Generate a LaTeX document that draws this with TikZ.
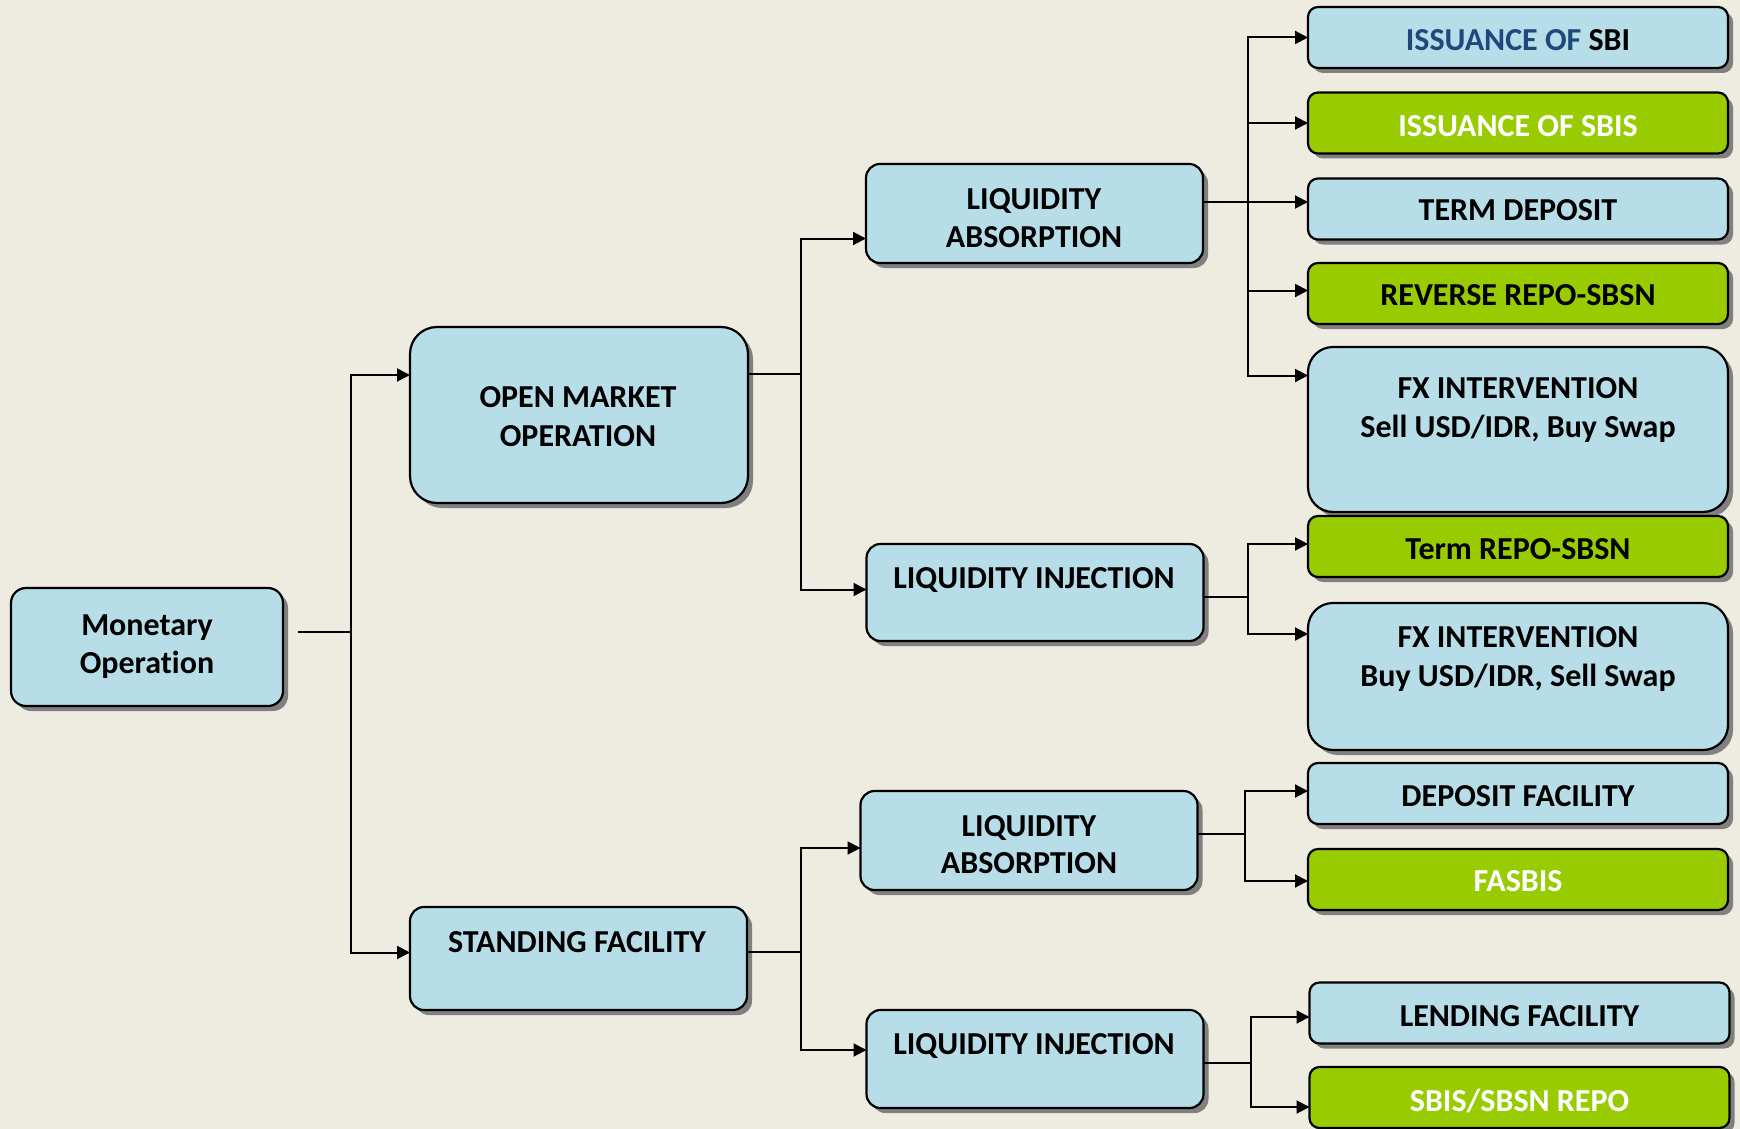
\documentclass[tikz,border=0pt]{standalone}
\usepackage{fontspec}
\setmainfont[Ligatures={NoCommon,NoRare,NoDiscretionary}]{Carlito}
\usetikzlibrary{arrows.meta,shadows}
\definecolor{bg}{HTML}{EEECE1}
\definecolor{lblue}{HTML}{B7DEE8}
\definecolor{lgreen}{HTML}{99CC00}
\definecolor{dblue}{HTML}{1F497D}
\begin{document}
\begin{tikzpicture}[x=1pt,y=-1pt,
 box/.style={draw=black, line width=2.2pt, rounded corners=#1, inner sep=0pt, outer sep=0pt,
   drop shadow={shadow xshift=5pt,shadow yshift=-5pt,fill=black!50,opacity=1}},
 box/.default=10pt,
 bbox/.style={box=#1, fill=lblue},
 bbox/.default=10pt,
 gbox/.style={box=#1, fill=lgreen},
 gbox/.default=10pt,
 txt/.style={anchor=base, font=\fontsize{32}{38}\selectfont\bfseries, inner sep=0pt},
 ln/.style={line width=2pt, draw=black},
 arr/.style={ln, -{Triangle[length=13pt,width=13pt]}},
 rcol/.style={minimum width=420pt, minimum height=61pt},
 mid/.style={minimum width=337pt},
]
\useasboundingbox (0,0) rectangle (1740,1129);
\fill[bg] (0,0) rectangle (1740,1129);

% ---- boxes
\node[bbox=15pt, minimum width=272pt, minimum height=118pt] (mo) at (147,647) {};
\node[bbox=27pt, minimum width=338pt, minimum height=176pt] (omo) at (579,415) {};
\node[bbox=14pt, minimum width=337pt, minimum height=103pt] (sf) at (578.5,958.5) {};
\node[bbox=14pt, mid, minimum height=99pt] (la1) at (1034.5,213.5) {};
\node[bbox=14pt, mid, minimum height=97pt] (li1) at (1035,592.5) {};
\node[bbox=14pt, mid, minimum height=99pt] (la2) at (1029,840.5) {};
\node[bbox=14pt, mid, minimum height=98pt] (li2) at (1035,1059) {};

\node[bbox, rcol] (sbi) at (1518,37.5) {};
\node[gbox, rcol] (sbis) at (1518,123) {};
\node[bbox, rcol] (td) at (1518,209) {};
\node[gbox, rcol] (rr) at (1518,293.5) {};
\node[bbox=25pt, rcol, minimum height=165pt] (fx1) at (1518,429.5) {};
\node[gbox, rcol] (tr) at (1518,546.5) {};
\node[bbox=25pt, rcol, minimum height=147pt] (fx2) at (1518,676.5) {};
\node[bbox, rcol] (df) at (1518,793.5) {};
\node[gbox, rcol] (fas) at (1518,879.5) {};
\node[bbox, rcol] (lf) at (1519.5,1013) {};
\node[gbox, rcol] (sr) at (1519.5,1097.5) {};

% ---- texts
\node[txt] (mo-t1) at (147,635) {Monetary};
\node[txt] (mo-t2) at (147,673) {Operation};
\node[txt] (omo-t1) at (578,407) {OPEN MARKET};
\node[txt] (omo-t2) at (578,446) {OPERATION};
\node[txt] (sf-t) at (577,952) {STANDING FACILITY};
\node[txt] (la1-t1) at (1034,209) {LIQUIDITY};
\node[txt] (la1-t2) at (1034,247) {ABSORPTION};
\node[txt] (li1-t) at (1034,588) {LIQUIDITY INJECTION};
\node[txt] (la2-t1) at (1029,836) {LIQUIDITY};
\node[txt] (la2-t2) at (1029,873) {ABSORPTION};
\node[txt] (li2-t) at (1034,1054.5) {LIQUIDITY INJECTION};

\node[txt] (sbi-t) at (1518,51) {{\color{dblue}ISSUANCE OF} SBI};
\node[txt, text=white] (sbis-t) at (1518,136) {ISSUANCE OF SBIS};
\node[txt] (td-t) at (1518,220) {TERM DEPOSIT};
\node[txt] (rr-t) at (1518,305.5) {REVERSE REPO-SBSN};
\node[txt] (fx1-t1) at (1518,398) {FX INTERVENTION};
\node[txt] (fx1-t2) at (1518,437) {Sell USD/IDR, Buy Swap};
\node[txt] (tr-t) at (1518,559.5) {Term REPO-SBSN};
\node[txt] (fx2-t1) at (1518,647) {FX INTERVENTION};
\node[txt] (fx2-t2) at (1518,686) {Buy USD/IDR, Sell Swap};
\node[txt] (df-t) at (1518,806) {DEPOSIT FACILITY};
\node[txt, text=white] (fas-t) at (1518,891) {FASBIS};
\node[txt] (lf-t) at (1519.5,1026) {LENDING FACILITY};
\node[txt, text=white] (sr-t) at (1519.5,1111) {SBIS/SBSN REPO};

% ---- connectors
\coordinate (j0) at (351,632);
\draw[ln] ([xshift=15pt,yshift=15pt]mo.east) -- (j0);
\draw[arr] (j0) |- ([yshift=40pt]omo.west);
\draw[arr] (j0) |- ([yshift=6pt]sf.west);

\coordinate (j1) at (801,374);
\draw[ln] ([yshift=41pt]omo.east) -- (j1);
\draw[arr] (j1) |- ([yshift=-25pt]la1.west);
\draw[arr] (j1) |- ([yshift=3pt]li1.west);

\coordinate (j2) at (1248,202);
\draw[ln] ([yshift=11.5pt]la1.east) -- (j2);
\draw[arr] (j2) |- (sbi.west);
\draw[arr] (j2) |- (sbis.west);
\draw[arr] (j2) |- ([yshift=7pt]td.west);
\draw[arr] (j2) |- ([yshift=3pt]rr.west);
\draw[arr] (j2) |- ([yshift=54pt]fx1.west);

\coordinate (j3) at (1248,597);
\draw[ln] ([yshift=-4.5pt]li1.east) -- (j3);
\draw[arr] (j3) |- ([yshift=2.5pt]tr.west);
\draw[arr] (j3) |- ([yshift=42.5pt]fx2.west);

\coordinate (j4) at (801,952);
\draw[ln] ([yshift=6.5pt]sf.east) -- (j4);
\draw[arr] (j4) |- ([yshift=-7.5pt]la2.west);
\draw[arr] (j4) |- ([yshift=9pt]li2.west);

\coordinate (j5) at (1245,834);
\draw[ln] ([yshift=6.5pt]la2.east) -- (j5);
\draw[arr] (j5) |- ([yshift=2.5pt]df.west);
\draw[arr] (j5) |- ([yshift=-1.5pt]fas.west);

\coordinate (j6) at (1251,1063);
\draw[ln] ([yshift=-4pt]li2.east) -- (j6);
\draw[arr] (j6) |- ([yshift=-4pt]lf.west);
\draw[arr] (j6) |- ([yshift=-9.5pt]sr.west);
\end{tikzpicture}
\end{document}
